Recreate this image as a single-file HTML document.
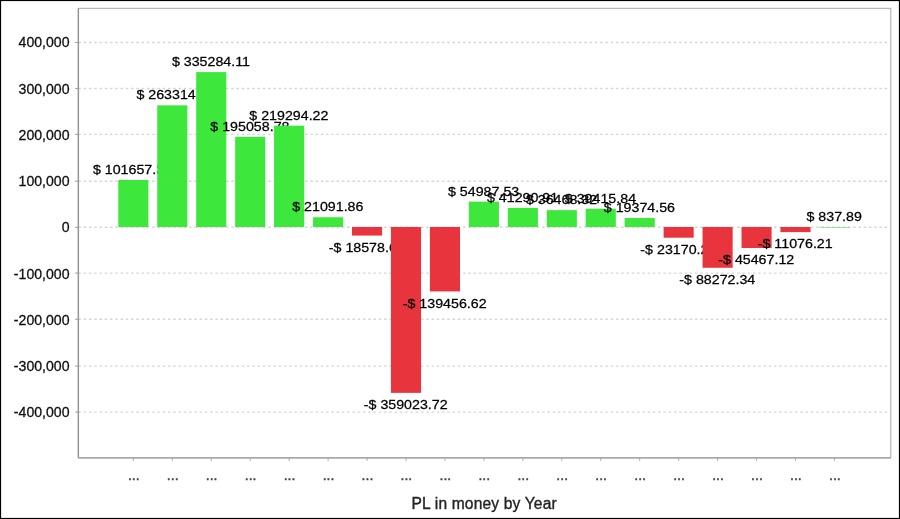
<!DOCTYPE html>
<html><head><meta charset="utf-8"><title>PL in money by Year</title>
<style>html,body{margin:0;padding:0;background:#fff}body{width:900px;height:519px;overflow:hidden}svg{display:block}text{font-family:"Liberation Sans",Arial,sans-serif;fill:#111}.t{font-size:14.1px;stroke:#111;stroke-width:0.3px}.l{font-size:12.6px;fill:#000;stroke:#000;stroke-width:0.25px}.ttl{font-size:15.6px;fill:#222;letter-spacing:0.15px;stroke:#222;stroke-width:0.35px}.d{font-size:14.1px;fill:#444;stroke:#444;stroke-width:0.45px}</style></head><body>
<svg width="900" height="519" viewBox="0 0 900 519">
<rect x="0" y="0" width="900" height="519" fill="#fff"/>
<defs><filter id="soft" filterUnits="userSpaceOnUse" x="0" y="0" width="900" height="519"><feGaussianBlur stdDeviation="0.4"/></filter></defs>
<rect x="0.5" y="0.5" width="899" height="518" fill="none" stroke="#000" stroke-width="1.2"/>
<g filter="url(#soft)">
<line x1="78.4" y1="412.10" x2="890.8" y2="412.10" stroke="#d5d5d5" stroke-width="1.4" stroke-dasharray="2.45 2.82"/>
<line x1="78.4" y1="366.10" x2="890.8" y2="366.10" stroke="#d5d5d5" stroke-width="1.4" stroke-dasharray="2.45 2.82"/>
<line x1="78.4" y1="319.30" x2="890.8" y2="319.30" stroke="#d5d5d5" stroke-width="1.4" stroke-dasharray="2.45 2.82"/>
<line x1="78.4" y1="273.10" x2="890.8" y2="273.10" stroke="#d5d5d5" stroke-width="1.4" stroke-dasharray="2.45 2.82"/>
<line x1="78.4" y1="227.30" x2="890.8" y2="227.30" stroke="#d5d5d5" stroke-width="1.4" stroke-dasharray="2.45 2.82"/>
<line x1="78.4" y1="181.20" x2="890.8" y2="181.20" stroke="#d5d5d5" stroke-width="1.4" stroke-dasharray="2.45 2.82"/>
<line x1="78.4" y1="134.40" x2="890.8" y2="134.40" stroke="#d5d5d5" stroke-width="1.4" stroke-dasharray="2.45 2.82"/>
<line x1="78.4" y1="88.50" x2="890.8" y2="88.50" stroke="#d5d5d5" stroke-width="1.4" stroke-dasharray="2.45 2.82"/>
<line x1="78.4" y1="42.50" x2="890.8" y2="42.50" stroke="#d5d5d5" stroke-width="1.4" stroke-dasharray="2.45 2.82"/>
<rect x="78.4" y="8.4" width="812.4" height="449.4" fill="none" stroke="#b6b6b6" stroke-width="1.2"/>
<line x1="78.4" y1="8.4" x2="78.4" y2="457.8" stroke="#909090" stroke-width="1.3"/>
<line x1="78.4" y1="457.8" x2="890.8" y2="457.8" stroke="#a0a0a0" stroke-width="1.3"/>
<line x1="75.2" y1="412.10" x2="78.4" y2="412.10" stroke="#a0a0a0" stroke-width="1.1"/>
<text class="t" x="69.5" y="417.40" text-anchor="end">-400,000</text>
<line x1="75.2" y1="366.10" x2="78.4" y2="366.10" stroke="#a0a0a0" stroke-width="1.1"/>
<text class="t" x="69.5" y="370.70" text-anchor="end">-300,000</text>
<line x1="75.2" y1="319.30" x2="78.4" y2="319.30" stroke="#a0a0a0" stroke-width="1.1"/>
<text class="t" x="69.5" y="324.70" text-anchor="end">-200,000</text>
<line x1="75.2" y1="273.10" x2="78.4" y2="273.10" stroke="#a0a0a0" stroke-width="1.1"/>
<text class="t" x="69.5" y="278.90" text-anchor="end">-100,000</text>
<line x1="75.2" y1="227.30" x2="78.4" y2="227.30" stroke="#a0a0a0" stroke-width="1.1"/>
<text class="t" x="69.5" y="231.90" text-anchor="end">0</text>
<line x1="75.2" y1="181.20" x2="78.4" y2="181.20" stroke="#a0a0a0" stroke-width="1.1"/>
<text class="t" x="69.5" y="185.90" text-anchor="end">100,000</text>
<line x1="75.2" y1="134.40" x2="78.4" y2="134.40" stroke="#a0a0a0" stroke-width="1.1"/>
<text class="t" x="69.5" y="140.20" text-anchor="end">200,000</text>
<line x1="75.2" y1="88.50" x2="78.4" y2="88.50" stroke="#a0a0a0" stroke-width="1.1"/>
<text class="t" x="69.5" y="94.20" text-anchor="end">300,000</text>
<line x1="75.2" y1="42.50" x2="78.4" y2="42.50" stroke="#a0a0a0" stroke-width="1.1"/>
<text class="t" x="69.5" y="46.90" text-anchor="end">400,000</text>
<line x1="133.35" y1="457.8" x2="133.35" y2="460.8" stroke="#a2a2a2" stroke-width="0.95"/>
<text class="d" x="133.75" y="480.1" text-anchor="middle">...</text>
<line x1="172.30" y1="457.8" x2="172.30" y2="460.8" stroke="#a2a2a2" stroke-width="0.95"/>
<text class="d" x="172.70" y="480.1" text-anchor="middle">...</text>
<line x1="211.25" y1="457.8" x2="211.25" y2="460.8" stroke="#a2a2a2" stroke-width="0.95"/>
<text class="d" x="211.65" y="480.1" text-anchor="middle">...</text>
<line x1="250.20" y1="457.8" x2="250.20" y2="460.8" stroke="#a2a2a2" stroke-width="0.95"/>
<text class="d" x="250.60" y="480.1" text-anchor="middle">...</text>
<line x1="289.15" y1="457.8" x2="289.15" y2="460.8" stroke="#a2a2a2" stroke-width="0.95"/>
<text class="d" x="289.55" y="480.1" text-anchor="middle">...</text>
<line x1="328.10" y1="457.8" x2="328.10" y2="460.8" stroke="#a2a2a2" stroke-width="0.95"/>
<text class="d" x="328.50" y="480.1" text-anchor="middle">...</text>
<line x1="367.05" y1="457.8" x2="367.05" y2="460.8" stroke="#a2a2a2" stroke-width="0.95"/>
<text class="d" x="367.45" y="480.1" text-anchor="middle">...</text>
<line x1="406.00" y1="457.8" x2="406.00" y2="460.8" stroke="#a2a2a2" stroke-width="0.95"/>
<text class="d" x="406.40" y="480.1" text-anchor="middle">...</text>
<line x1="444.95" y1="457.8" x2="444.95" y2="460.8" stroke="#a2a2a2" stroke-width="0.95"/>
<text class="d" x="445.35" y="480.1" text-anchor="middle">...</text>
<line x1="483.90" y1="457.8" x2="483.90" y2="460.8" stroke="#a2a2a2" stroke-width="0.95"/>
<text class="d" x="484.30" y="480.1" text-anchor="middle">...</text>
<line x1="522.85" y1="457.8" x2="522.85" y2="460.8" stroke="#a2a2a2" stroke-width="0.95"/>
<text class="d" x="523.25" y="480.1" text-anchor="middle">...</text>
<line x1="561.80" y1="457.8" x2="561.80" y2="460.8" stroke="#a2a2a2" stroke-width="0.95"/>
<text class="d" x="562.20" y="480.1" text-anchor="middle">...</text>
<line x1="600.75" y1="457.8" x2="600.75" y2="460.8" stroke="#a2a2a2" stroke-width="0.95"/>
<text class="d" x="601.15" y="480.1" text-anchor="middle">...</text>
<line x1="639.70" y1="457.8" x2="639.70" y2="460.8" stroke="#a2a2a2" stroke-width="0.95"/>
<text class="d" x="640.10" y="480.1" text-anchor="middle">...</text>
<line x1="678.65" y1="457.8" x2="678.65" y2="460.8" stroke="#a2a2a2" stroke-width="0.95"/>
<text class="d" x="679.05" y="480.1" text-anchor="middle">...</text>
<line x1="717.60" y1="457.8" x2="717.60" y2="460.8" stroke="#a2a2a2" stroke-width="0.95"/>
<text class="d" x="718.00" y="480.1" text-anchor="middle">...</text>
<line x1="756.55" y1="457.8" x2="756.55" y2="460.8" stroke="#a2a2a2" stroke-width="0.95"/>
<text class="d" x="756.95" y="480.1" text-anchor="middle">...</text>
<line x1="795.50" y1="457.8" x2="795.50" y2="460.8" stroke="#a2a2a2" stroke-width="0.95"/>
<text class="d" x="795.90" y="480.1" text-anchor="middle">...</text>
<line x1="834.45" y1="457.8" x2="834.45" y2="460.8" stroke="#a2a2a2" stroke-width="0.95"/>
<text class="d" x="834.85" y="480.1" text-anchor="middle">...</text>
<rect x="118.30" y="180.03" width="30.10" height="46.97" fill="#3ce73b"/>
<text class="l" transform="translate(132.45 174.03) scale(1.13 1)" text-anchor="middle">$ 101657.35</text>
<rect x="157.25" y="105.35" width="30.10" height="121.65" fill="#3ce73b"/>
<text class="l" transform="translate(172.00 99.35) scale(1.13 1)" text-anchor="middle">$ 263314.5</text>
<rect x="196.20" y="72.10" width="30.10" height="154.90" fill="#3ce73b"/>
<text class="l" transform="translate(210.95 66.10) scale(1.13 1)" text-anchor="middle">$ 335284.11</text>
<rect x="235.15" y="136.88" width="30.10" height="90.12" fill="#3ce73b"/>
<text class="l" transform="translate(249.90 130.88) scale(1.13 1)" text-anchor="middle">$ 195058.78</text>
<rect x="274.10" y="125.69" width="30.10" height="101.31" fill="#3ce73b"/>
<text class="l" transform="translate(288.85 119.69) scale(1.13 1)" text-anchor="middle">$ 219294.22</text>
<rect x="313.05" y="217.26" width="30.10" height="9.74" fill="#3ce73b"/>
<text class="l" transform="translate(327.80 211.26) scale(1.13 1)" text-anchor="middle">$ 21091.86</text>
<rect x="352.00" y="227.00" width="30.10" height="8.58" fill="#e8363c"/>
<text class="l" transform="translate(366.75 251.78) scale(1.13 1)" text-anchor="middle">-$ 18578.65</text>
<rect x="390.95" y="227.00" width="30.10" height="165.87" fill="#e8363c"/>
<text class="l" transform="translate(405.70 409.07) scale(1.13 1)" text-anchor="middle">-$ 359023.72</text>
<rect x="429.90" y="227.00" width="30.10" height="64.43" fill="#e8363c"/>
<text class="l" transform="translate(444.65 307.63) scale(1.13 1)" text-anchor="middle">-$ 139456.62</text>
<rect x="468.85" y="201.60" width="30.10" height="25.40" fill="#3ce73b"/>
<text class="l" transform="translate(483.60 195.60) scale(1.13 1)" text-anchor="middle">$ 54987.53</text>
<rect x="507.80" y="207.92" width="30.10" height="19.08" fill="#3ce73b"/>
<text class="l" transform="translate(522.55 201.92) scale(1.13 1)" text-anchor="middle">$ 41290.91</text>
<rect x="546.75" y="210.15" width="30.10" height="16.85" fill="#3ce73b"/>
<text class="l" transform="translate(561.50 204.15) scale(1.13 1)" text-anchor="middle">$ 36468.32</text>
<rect x="585.70" y="208.79" width="30.10" height="18.21" fill="#3ce73b"/>
<text class="l" transform="translate(600.45 202.79) scale(1.13 1)" text-anchor="middle">$ 39415.84</text>
<rect x="624.65" y="218.05" width="30.10" height="8.95" fill="#3ce73b"/>
<text class="l" transform="translate(639.40 212.05) scale(1.13 1)" text-anchor="middle">$ 19374.56</text>
<rect x="663.60" y="227.00" width="30.10" height="10.70" fill="#e8363c"/>
<text class="l" transform="translate(678.35 253.90) scale(1.13 1)" text-anchor="middle">-$ 23170.25</text>
<rect x="702.55" y="227.00" width="30.10" height="40.78" fill="#e8363c"/>
<text class="l" transform="translate(717.30 283.98) scale(1.13 1)" text-anchor="middle">-$ 88272.34</text>
<rect x="741.50" y="227.00" width="30.10" height="21.01" fill="#e8363c"/>
<text class="l" transform="translate(756.25 264.21) scale(1.13 1)" text-anchor="middle">-$ 45467.12</text>
<rect x="780.45" y="227.00" width="30.10" height="5.12" fill="#e8363c"/>
<text class="l" transform="translate(795.20 248.32) scale(1.13 1)" text-anchor="middle">-$ 11076.21</text>
<rect x="819.40" y="227.05" width="30.10" height="0.50" fill="#3ce73b"/>
<text class="l" transform="translate(834.15 220.61) scale(1.13 1)" text-anchor="middle">$ 837.89</text>
<text class="ttl" x="484.2" y="509.0" text-anchor="middle">PL in money by Year</text>
</g></svg></body></html>
